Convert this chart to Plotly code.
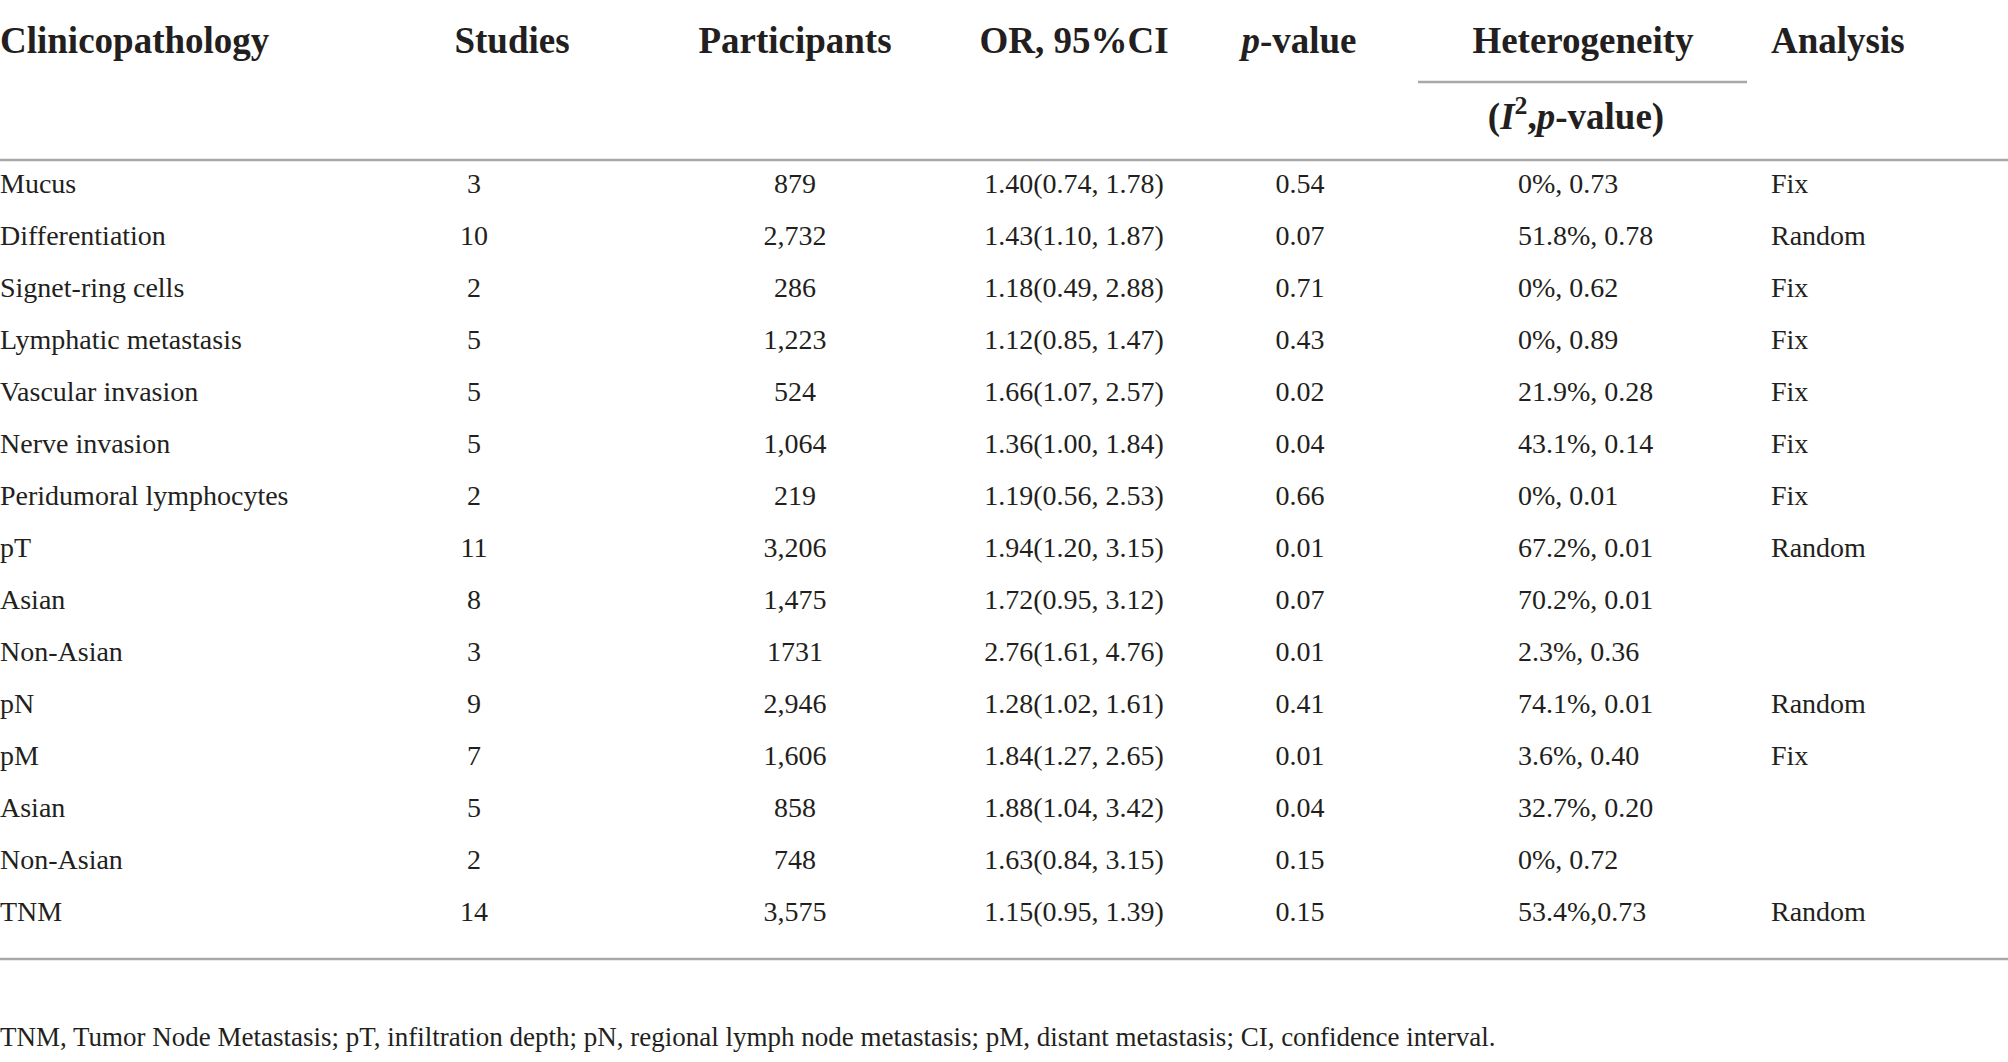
import plotly.graph_objects as go

# table content
clinicopathology = ["Mucus", "Differentiation", "Signet-ring cells", "Lymphatic metastasis",
                    "Vascular invasion", "Nerve invasion", "Peridumoral lymphocytes", "pT",
                    "Asian", "Non-Asian", "pN", "pM", "Asian", "Non-Asian", "TNM"]
studies = [3, 10, 2, 5, 5, 5, 2, 11, 8, 3, 9, 7, 5, 2, 14]
participants = ["879", "2,732", "286", "1,223", "524", "1,064", "219", "3,206",
                "1,475", "1731", "2,946", "1,606", "858", "748", "3,575"]
or_ci = ["1.40(0.74, 1.78)", "1.43(1.10, 1.87)", "1.18(0.49, 2.88)", "1.12(0.85, 1.47)",
         "1.66(1.07, 2.57)", "1.36(1.00, 1.84)", "1.19(0.56, 2.53)", "1.94(1.20, 3.15)",
         "1.72(0.95, 3.12)", "2.76(1.61, 4.76)", "1.28(1.02, 1.61)", "1.84(1.27, 2.65)",
         "1.88(1.04, 3.42)", "1.63(0.84, 3.15)", "1.15(0.95, 1.39)"]
p_values = ["0.54", "0.07", "0.71", "0.43", "0.02", "0.04", "0.66", "0.01",
            "0.07", "0.01", "0.41", "0.01", "0.04", "0.15", "0.15"]
heterogeneity = ["0%, 0.73", "51.8%, 0.78", "0%, 0.62", "0%, 0.89", "21.9%, 0.28",
                 "43.1%, 0.14", "0%, 0.01", "67.2%, 0.01", "70.2%, 0.01", "2.3%, 0.36",
                 "74.1%, 0.01", "3.6%, 0.40", "32.7%, 0.20", "0%, 0.72", "53.4%,0.73"]
analysis = ["Fix", "Random", "Fix", "Fix", "Fix", "Fix", "Fix", "Random",
            "", "", "Random", "Fix", "", "", "Random"]
footnote = ("TNM, Tumor Node Metastasis; pT, infiltration depth; pN, regional lymph node "
            "metastasis; pM, distant metastasis; CI, confidence interval.")

W, H = 2008, 1062
FONT = "Liberation Serif"
INK = "#231f20"
RULE = "#a8a8a8"
BODY = 28
HEAD = 37

row_y = [186 + 52 * i for i in range(len(clinicopathology))]

fig = go.Figure()

def col(x, texts, pos):
    # skip the blank cells so no empty text gets drawn
    ys = [y for y, t in zip(row_y, texts) if str(t)]
    ts = [str(t) for t in texts if str(t)]
    fig.add_trace(go.Scatter(
        x=[x] * len(ts), y=ys, text=ts,
        mode="text", textposition=pos, hoverinfo="skip", showlegend=False,
        textfont=dict(family=FONT, size=BODY, color=INK)))

col(0, clinicopathology, "middle right")
col(474, studies, "middle center")
col(795, participants, "middle center")
col(1074, or_ci, "middle center")
col(1300, p_values, "middle center")
col(1518, heterogeneity, "middle right")
col(1771, analysis, "middle right")

# header row
head_y = 44
headers = [
    (0, "<b>Clinicopathology</b>", "middle right"),
    (512, "<b>Studies</b>", "middle center"),
    (795, "<b>Participants</b>", "middle center"),
    (1074, "<b>OR, 95%CI</b>", "middle center"),
    (1299, "<b><i>p</i>-value</b>", "middle center"),
    (1583, "<b>Heterogeneity</b>", "middle center"),
    (1771, "<b>Analysis</b>", "middle right"),
]
for x, t, pos in headers:
    fig.add_trace(go.Scatter(
        x=[x], y=[head_y], text=[t], mode="text", textposition=pos,
        hoverinfo="skip", showlegend=False,
        textfont=dict(family=FONT, size=HEAD, color=INK)))

fig.add_trace(go.Scatter(
    x=[1576], y=[120], text=["<b>(<i>I</i><sup>2</sup>,<i>p</i>-value)</b>"],
    mode="text", textposition="middle center", hoverinfo="skip", showlegend=False,
    textfont=dict(family=FONT, size=HEAD, color=INK)))

fig.add_trace(go.Scatter(
    x=[0], y=[1039], text=[footnote], mode="text", textposition="middle right",
    hoverinfo="skip", showlegend=False,
    textfont=dict(family=FONT, size=27, color=INK)))

# rules
fig.add_shape(type="line", x0=1418, x1=1747, y0=82, y1=82, line=dict(color=RULE, width=2.5))
fig.add_shape(type="line", x0=0, x1=W, y0=160, y1=160, line=dict(color=RULE, width=2.5))
fig.add_shape(type="line", x0=0, x1=W, y0=959, y1=959, line=dict(color=RULE, width=2.5))

fig.update_layout(
    width=W, height=H,
    margin=dict(l=0, r=0, t=0, b=0),
    paper_bgcolor="white", plot_bgcolor="white",
    xaxis=dict(range=[0, W], visible=False, fixedrange=True),
    yaxis=dict(range=[H, 0], visible=False, fixedrange=True),
)

fig.write_html("out.html", config={"displayModeBar": False},
               post_script="document.body.style.margin='0';")
